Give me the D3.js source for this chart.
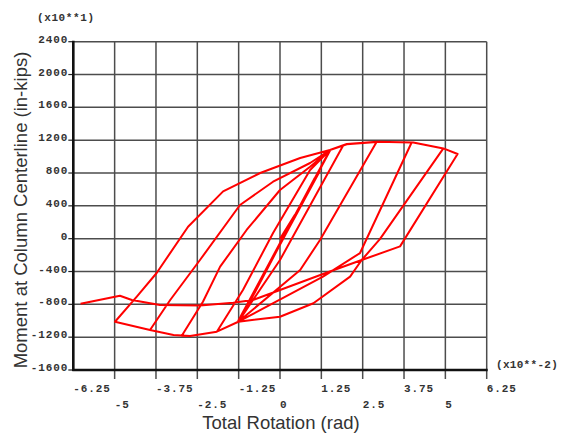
<!DOCTYPE html>
<html>
<head>
<meta charset="utf-8">
<script src="https://cdn.jsdelivr.net/npm/d3@7"></script>
<style>
  html, body { margin: 0; padding: 0; background: #fff; }
  svg { display: block; }
</style>
</head>
<body>
<svg id="chart" width="561" height="435"></svg>
<script>
// ---- data ----
const xTicks = [-6.25, -5, -3.75, -2.5, -1.25, 0, 1.25, 2.5, 3.75, 5, 6.25];
const xTickLabels = ["-6.25", "-5", "-3.75", "-2.5", "-1.25", "0", "1.25", "2.5", "3.75", "5", "6.25"];
const yTicks = [-1600, -1200, -800, -400, 0, 400, 800, 1200, 1600, 2000, 2400];
const yTickLabels = ["-1600", "-1200", "-800", "-400", "0", "400", "800", "1200", "1600", "2000", "2400"];

// Total rotation (x10**-2 rad)
const rotation = [
  0, 0.45, -0.5, 0.75, -0.8, 1.05, -1.05, 1.2, -1.15, 1.35,
  -1.2, 1.51, -1.26, 1.51, -1.26, 1.51,
  1.91, 0, -1.26, -1.91, -1.12, -0.21, 0.91, 1.51, 2.02, 2.92,
  1.21, 0.61, -1.26, -1.91, -2.72, -2.97, -2.33, -1.81, -1.01, 0,
  0.91, 1.51, 2.02, 2.93, 3.98, 2.42, 1.30, -1.26, -1.91, -2.72,
  -3.22, -3.93, -3.32, -2.42, -1.21, -0.21, 0.91, 1.51, 2.02, 2.93,
  4.03, 4.94, 3.02, 2.47, 2.12, 1.01, 0, -1.26, -1.91, -2.72,
  -3.22, -3.93, -4.99, -4.33, -3.73, -2.78, -1.72, -0.60, 0.61, 1.51,
  2.02, 2.93, 4.03, 4.94, 5.37, 3.63, 2.47, 1.30, 0, -0.82,
  -1.42, -2.42, -3.63, -4.48, -4.84, -6.03
];
// Moment at column centerline (x10 in-kips)
const moment = [
  0, 290, -440, 510, -660, 740, -850, 820, -930, 960,
  -990, 1080, -1012, 1070, -1000, 1080,
  1135, -260, -1012, -1133, -625, 69, 837, 1080, 1150, 1178,
  -16, -382, -1012, -1133, -1186, -1183, -768, -341, 106, 593,
  877, 1080, 1152, 1181, 1172, -175, -463, -1012, -1133, -1186,
  -1174, -1113, -747, -260, 410, 694, 922, 1080, 1153, 1181,
  1172, 1100, -6, -260, -463, -787, -951, -1012, -1133, -1186,
  -1174, -1113, -1012, -707, -418, 146, 576, 800, 983, 1080,
  1153, 1181, 1173, 1100, 1032, -94, -260, -430, -625, -747,
  -780, -814, -808, -747, -695, -792
];

// ---- drawing ----
const svg = d3.select("#chart");
const x = d3.scaleLinear().domain([-6.25, 6.25]).range([73.3, 486.7]);
const y = d3.scaleLinear().domain([-1600, 2400]).range([370, 41.7]);

const gridColor = "#4d4d4d";
const monoFont = "'Liberation Mono', 'DejaVu Sans Mono', monospace";

// grid
const grid = svg.append("g");
grid.selectAll("line.v").data(xTicks).join("line")
  .attr("x1", d => x(d)).attr("x2", d => x(d))
  .attr("y1", y(2400)).attr("y2", y(-1600))
  .attr("stroke", gridColor).attr("stroke-width", 1.5);
grid.selectAll("line.h").data(yTicks).join("line")
  .attr("x1", x(-6.25)).attr("x2", x(6.25))
  .attr("y1", d => y(d)).attr("y2", d => y(d))
  .attr("stroke", gridColor).attr("stroke-width", 1.5);

// x ticks below the axis
svg.append("g").selectAll("line").data(xTicks.slice(1)).join("line")
  .attr("x1", d => x(d)).attr("x2", d => x(d))
  .attr("y1", y(-1600)).attr("y2", y(-1600) + 9)
  .attr("stroke", gridColor).attr("stroke-width", 1.5);

// y ticks left of the axis
svg.append("g").selectAll("line").data(yTicks).join("line")
  .attr("x1", x(-6.25) - 5).attr("x2", x(-6.25))
  .attr("y1", d => y(d)).attr("y2", d => y(d))
  .attr("stroke", "#222").attr("stroke-width", 1.2);

// main axes (left, bottom)
svg.append("line")
  .attr("x1", x(-6.25)).attr("x2", x(-6.25))
  .attr("y1", y(2400) - 1).attr("y2", y(-1600) + 1)
  .attr("stroke", "#111").attr("stroke-width", 2.6);
svg.append("line")
  .attr("x1", x(-6.25) - 1).attr("x2", x(6.25) + 1)
  .attr("y1", y(-1600)).attr("y2", y(-1600))
  .attr("stroke", "#111").attr("stroke-width", 2.6);

// y tick labels
svg.append("g").selectAll("text").data(yTicks).join("text")
  .attr("x", x(-6.25) - 5)
  .attr("y", d => y(d) + 1)
  .attr("text-anchor", "end")
  .attr("font-family", monoFont)
  .attr("font-size", 11)
  .attr("font-weight", "bold")
  .attr("letter-spacing", 0.9)
  .attr("fill", "#333")
  .text((d, i) => yTickLabels[i]);

// x tick labels (staggered, left aligned at tick)
svg.append("g").selectAll("text").data(xTicks).join("text")
  .attr("x", d => x(d))
  .attr("y", (d, i) => i % 2 === 0 ? 392 : 408)
  .attr("text-anchor", "start")
  .attr("font-family", monoFont)
  .attr("font-size", 11)
  .attr("font-weight", "bold")
  .attr("letter-spacing", 0.9)
  .attr("fill", "#333")
  .text((d, i) => xTickLabels[i]);

// multipliers
svg.append("text")
  .attr("x", 37).attr("y", 21)
  .attr("font-family", monoFont).attr("font-size", 11).attr("font-weight", "bold")
  .attr("letter-spacing", 0.6).attr("fill", "#333")
  .text("(x10**1)");
svg.append("text")
  .attr("x", 496).attr("y", 368)
  .attr("font-family", monoFont).attr("font-size", 11).attr("font-weight", "bold")
  .attr("letter-spacing", 0.3).attr("fill", "#333")
  .text("(x10**-2)");

// axis titles
svg.append("text")
  .attr("x", 281).attr("y", 429)
  .attr("text-anchor", "middle")
  .attr("font-family", "'Liberation Sans', Arial, sans-serif")
  .attr("font-size", 18.5)
  .attr("fill", "#333")
  .text("Total Rotation (rad)");
svg.append("text")
  .attr("transform", "translate(27,210) rotate(-90)")
  .attr("text-anchor", "middle")
  .attr("font-family", "'Liberation Sans', Arial, sans-serif")
  .attr("font-size", 18.5)
  .attr("fill", "#333")
  .text("Moment at Column Centerline (in-kips)");

// hysteresis curve
const pts = rotation.map((r, i) => [r, moment[i]]);
const line = d3.line().x(d => x(d[0])).y(d => y(d[1]));
svg.append("path")
  .datum(pts)
  .attr("d", line)
  .attr("fill", "none")
  .attr("stroke", "#f00")
  .attr("stroke-width", 2)
  .attr("stroke-linejoin", "round");
</script>
</body>
</html>
